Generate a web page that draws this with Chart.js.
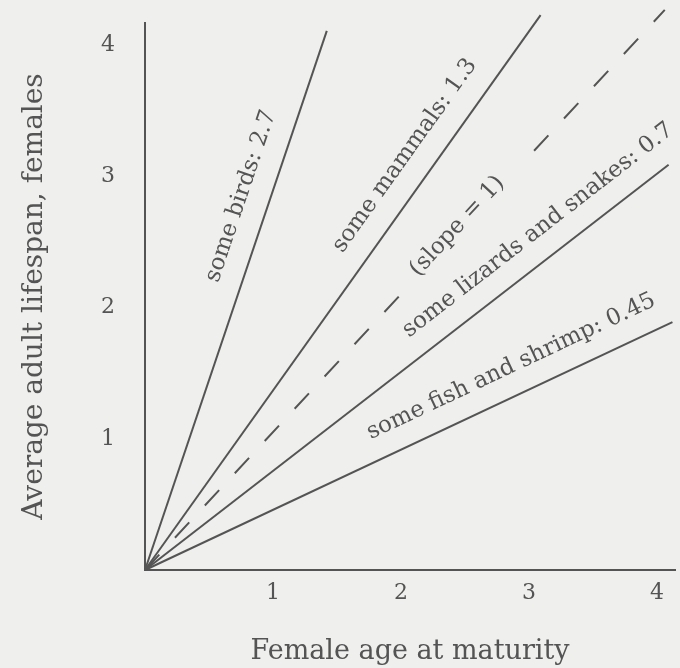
<!DOCTYPE html>
<html>
<head>
<meta charset="utf-8">
<script src="https://cdn.jsdelivr.net/npm/chart.js@4.4.1/dist/chart.umd.min.js"></script>
<style>
  html, body { margin: 0; padding: 0; background: #efefed; }
  #wrap { width: 680px; height: 668px; position: relative; }
</style>
</head>
<body>
<div id="wrap"><canvas id="lifespanChart"></canvas></div>
<script>
// values
const groupNames = ['some birds', 'some mammals', 'slope = 1', 'some lizards and snakes', 'some fish and shrimp'];
const slopes = [2.7, 1.3, 1, 0.7, 0.45];
const startX = [0, 0, 0, 0, 0];
const startY = [0, 0, 0, 0, 0];
const endX = [1.42, 3.09, 4.06, 4.09, 4.12];
const endY = [4.11, 4.23, 4.27, 3.09, 1.89];
const xTicks = [1, 2, 3, 4];
const yTicks = [1, 2, 3, 4];

const ink = '#545454';
const paper = '#efefed';
const serif = "'DejaVu Serif', 'Liberation Serif', serif";

// where each line's caption sits (data coords of caption centre)
const captionAt = [[0.75, 2.85], [2.03, 3.16], [2.44, 2.62], [3.07, 2.59], [2.86, 1.55]];

function captionText(i) {
  if (i === 2) return '(slope = 1)';
  return groupNames[i] + ': ' + slopes[i];
}

const datasets = groupNames.map(function(name, i) {
  return {
    label: name,
    data: [{x: startX[i], y: startY[i]}, {x: endX[i], y: endY[i]}],
    showLine: true,
    borderColor: ink,
    borderWidth: 2,
    borderDash: i === 2 ? [21, 23] : [],
    pointRadius: 0,
    clip: false
  };
});

const captions = {
  id: 'captions',
  afterDatasetsDraw: function(chart) {
    const ctx = chart.ctx;
    const xs = chart.scales.x, ys = chart.scales.y;
    ctx.save();
    ctx.font = '23px ' + serif;
    ctx.fillStyle = ink;
    ctx.textAlign = 'center';
    ctx.textBaseline = 'middle';
    captionAt.forEach(function(pos, i) {
      const pts = chart.getDatasetMeta(i).data;
      const a = Math.atan2(pts[1].y - pts[0].y, pts[1].x - pts[0].x);
      const txt = captionText(i);
      ctx.save();
      ctx.translate(xs.getPixelForValue(pos[0]), ys.getPixelForValue(pos[1]));
      ctx.rotate(a);
      if (i === 2) {
        // the dashed line breaks around its caption
        const w = ctx.measureText(txt).width;
        ctx.fillStyle = paper;
        ctx.fillRect(-w / 2 - 22, -16, w + 44, 32);
        ctx.fillStyle = ink;
      }
      ctx.fillText(txt, 0, 0);
      ctx.restore();
    });
    ctx.restore();
  }
};

new Chart(document.getElementById('lifespanChart'), {
  type: 'scatter',
  data: { datasets: datasets },
  plugins: [captions],
  options: {
    responsive: true,
    maintainAspectRatio: false,
    animation: false,
    layout: { padding: { top: 23, right: 5, left: 0, bottom: 0 } },
    plugins: { legend: { display: false }, tooltip: { enabled: false } },
    scales: {
      x: {
        type: 'linear',
        min: 0,
        max: 4.14,
        afterFit: function(s) { s.height = 98; s.paddingLeft = 0; s.paddingRight = 0; },
        afterBuildTicks: function(s) { s.ticks = xTicks.map(function(v) { return {value: v}; }); },
        grid: { color: 'rgba(0,0,0,0)', drawTicks: false },
        border: { display: true, color: ink, width: 2 },
        ticks: { color: ink, padding: 10, font: { family: serif, size: 22 } },
        title: {
          display: true,
          text: 'Female age at maturity',
          color: ink,
          font: { family: serif, size: 27 },
          padding: { top: 0, bottom: 0 }
        }
      },
      y: {
        type: 'linear',
        min: 0,
        max: 4.17,
        afterFit: function(s) { s.width = 145; s.paddingTop = 0; s.paddingBottom = 0; },
        afterBuildTicks: function(s) { s.ticks = yTicks.map(function(v) { return {value: v}; }); },
        grid: { color: 'rgba(0,0,0,0)', drawTicks: false },
        border: { display: true, color: ink, width: 2 },
        ticks: { color: ink, padding: 30, font: { family: serif, size: 22 } },
        title: {
          display: true,
          text: 'Average adult lifespan, females',
          color: ink,
          font: { family: serif, size: 28 },
          padding: { top: 18, bottom: 0 }
        }
      }
    }
  }
});
</script>
</body>
</html>
